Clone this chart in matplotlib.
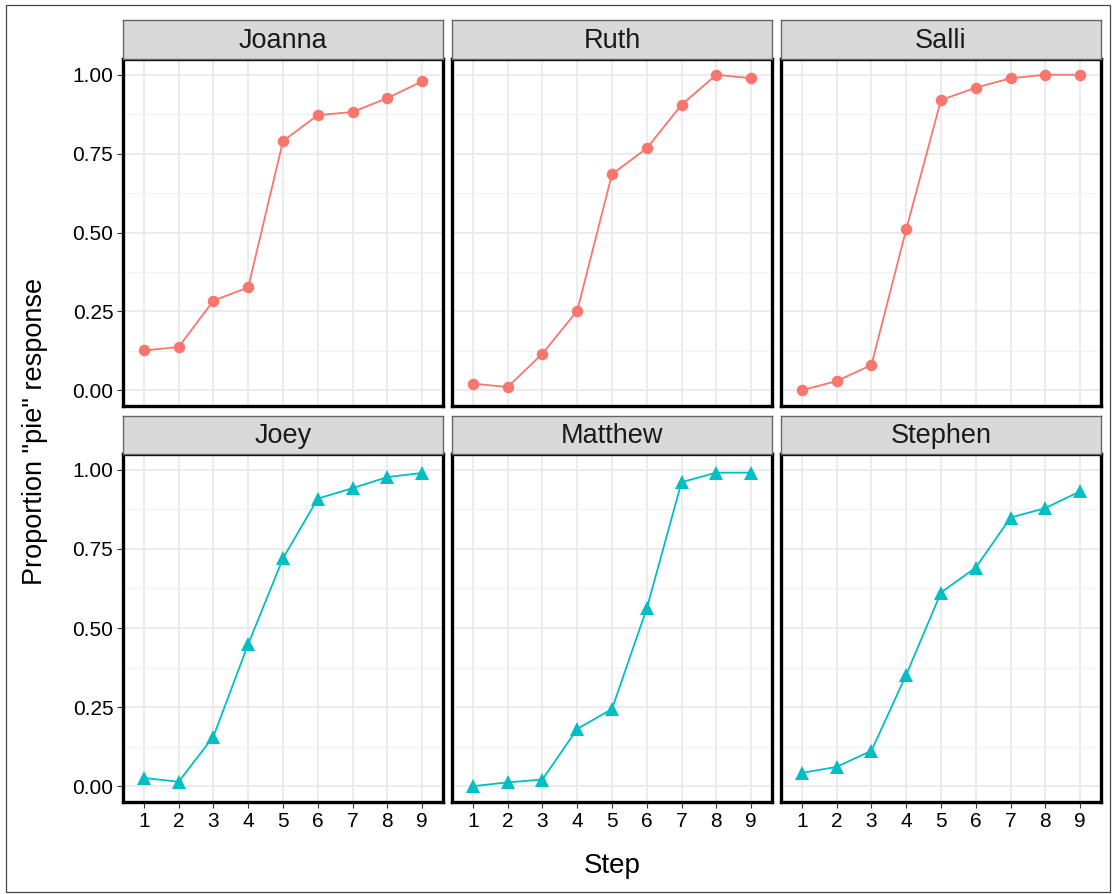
import matplotlib.pyplot as plt
from matplotlib.patches import Rectangle

plt.rcParams['font.family'] = ['Liberation Sans', 'DejaVu Sans']

# Data
steps = [1, 2, 3, 4, 5, 6, 7, 8, 9]

joanna = [0.126, 0.137, 0.284, 0.326, 0.790, 0.872, 0.882, 0.926, 0.979]
ruth = [0.021, 0.010, 0.116, 0.252, 0.685, 0.767, 0.905, 1.000, 0.989]
salli = [0.000, 0.029, 0.080, 0.510, 0.920, 0.959, 0.989, 1.000, 1.000]

joey = [0.026, 0.014, 0.157, 0.449, 0.720, 0.909, 0.942, 0.977, 0.990]
matthew = [0.000, 0.012, 0.021, 0.181, 0.244, 0.562, 0.961, 0.991, 0.991]
stephen = [0.042, 0.061, 0.112, 0.352, 0.612, 0.691, 0.849, 0.879, 0.932]

top_names = ["Joanna", "Ruth", "Salli"]
top_values = [joanna, ruth, salli]
bottom_names = ["Joey", "Matthew", "Stephen"]
bottom_values = [joey, matthew, stephen]

y_ticks = [0.0, 0.25, 0.5, 0.75, 1.0]
y_tick_labels = ["0.00", "0.25", "0.50", "0.75", "1.00"]

W, H = 1112, 894
fig = plt.figure(figsize=(W / 100, H / 100), dpi=100)

# outer frame
fig.patches.append(Rectangle((6 / W, 2 / H), 1104 / W, 887 / H, transform=fig.transFigure,
                             fill=False, edgecolor='#444444', linewidth=0.9))


def px_rect(x0, y0, x1, y1):
    # pixel box (top-left origin) -> figure fraction
    return [x0 / W, 1 - y1 / H, (x1 - x0) / W, (y1 - y0) / H]


col_x = [(123, 443), (452, 772), (781, 1101)]
rows = [
    {"strip": (20, 59), "panel": (59, 406), "names": top_names, "values": top_values,
     "color": "#F8766D", "marker": "o", "ms": 8.3},
    {"strip": (416, 454), "panel": (454, 802), "names": bottom_names, "values": bottom_values,
     "color": "#00BFC4", "marker": "^", "ms": 10},
]

for r, row in enumerate(rows):
    for c, (x0, x1) in enumerate(col_x):
        ax = fig.add_axes(px_rect(x0, row["panel"][0], x1, row["panel"][1]))
        ax.plot(steps, row["values"][c], color=row["color"], marker=row["marker"],
                markersize=row["ms"], linewidth=1.3, markeredgewidth=0, zorder=3)
        ax.set_xlim(0.4, 9.6)
        ax.set_ylim(-0.05, 1.05)
        ax.set_xticks(steps)
        ax.set_yticks(y_ticks)
        ax.set_yticks([0.125, 0.375, 0.625, 0.875], minor=True)
        ax.grid(True, which='major', color='#EBEBEB', linewidth=1.3, zorder=0)
        ax.grid(True, which='minor', axis='y', color='#F2F2F2', linewidth=0.8, zorder=0)
        ax.set_axisbelow(True)
        ax.tick_params(which='minor', length=0)
        ax.tick_params(which='major', length=4, width=0.8, color='#333333',
                       labelsize=15, labelcolor='black', pad=3)
        for s in ax.spines.values():
            s.set_linewidth(2.4)
            s.set_color('black')
        if c == 0:
            ax.set_yticklabels(y_tick_labels)
        else:
            ax.tick_params(axis='y', left=False, labelleft=False)
        if r == 0:
            ax.tick_params(axis='x', bottom=False, labelbottom=False)

        # facet strip
        sax = fig.add_axes(px_rect(x0, row["strip"][0], x1, row["strip"][1]))
        sax.set_facecolor('#D9D9D9')
        sax.set_xticks([])
        sax.set_yticks([])
        for s in sax.spines.values():
            s.set_color('#666666')
            s.set_linewidth(1.0)
        sax.text(0.5, 0.47, row["names"][c], ha='center', va='center', fontsize=19.5,
                 color='#1A1A1A', transform=sax.transAxes)

fig.text(612 / W, 1 - 866 / H, "Step", ha='center', va='center', fontsize=20)
fig.text(35 / W, 1 - 431 / H, 'Proportion "pie" response', ha='center', va='center',
         fontsize=19.5, rotation=90)

fig.savefig("out.png", dpi=100)
